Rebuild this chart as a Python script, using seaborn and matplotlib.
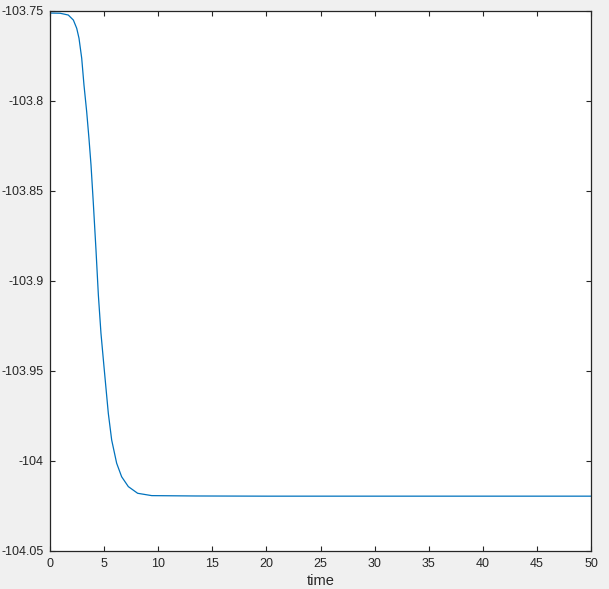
import matplotlib
matplotlib.use("Agg")
import matplotlib.pyplot as plt
import numpy as np
import pandas as pd
import seaborn as sns

# values (time vs. response)
time = [0.0, 0.92, 1.69, 2.16, 2.47, 2.68, 2.93, 3.14, 3.39, 3.60, 3.79,
        4.00, 4.25, 4.47, 4.71, 4.99, 5.24, 5.39, 5.70, 6.16, 6.62, 7.24,
        8.10, 9.40, 13.4, 20.0, 30.0, 40.0, 50.0]
value = [-103.7513, -103.7514, -103.7524, -103.7552, -103.7598, -103.7653,
         -103.7764, -103.7913, -103.8061, -103.8209, -103.8357, -103.8565,
         -103.8829, -103.9080, -103.9292, -103.9478, -103.9640, -103.9737,
         -103.9885, -104.0014, -104.0089, -104.0144, -104.0181, -104.0194,
         -104.0196, -104.0197, -104.0197, -104.0197, -104.0197]

x_ticks = [0, 5, 10, 15, 20, 25, 30, 35, 40, 45, 50]
y_ticks = [-104.05, -104.0, -103.95, -103.9, -103.85, -103.8, -103.75]
y_labels = ["-104.05", "-104", "-103.95", "-103.9", "-103.85", "-103.8", "-103.75"]

df = pd.DataFrame({"time": time, "value": value})

sns.set_style("white")
plt.rcParams["font.family"] = ["Liberation Sans", "DejaVu Sans"]
plt.rcParams["axes.unicode_minus"] = False

ink = "#262626"
fig = plt.figure(figsize=(6.09, 5.89), dpi=100, facecolor="#f0f0f0")
ax = fig.add_axes([50 / 609, 1 - 550.7 / 589, 541 / 609, 540 / 589])
ax.set_facecolor("white")

sns.lineplot(data=df, x="time", y="value", color="#0072BD", linewidth=0.9, ax=ax)

ax.set_xlim(0, 50)
ax.set_ylim(-104.05, -103.75)
ax.set_xticks(x_ticks)
ax.set_yticks(y_ticks)
ax.set_yticklabels(y_labels)
ax.set_xlabel("time", fontsize=10.5, color=ink, labelpad=3)
ax.set_ylabel("")

for s in ax.spines.values():
    s.set_visible(True)
    s.set_color(ink)
    s.set_linewidth(0.9)

ax.tick_params(axis="both", which="both", direction="in", length=3.5, width=0.8,
               color=ink, labelcolor=ink, labelsize=9,
               top=True, right=True, bottom=True, left=True)
ax.tick_params(axis="x", pad=5)
ax.tick_params(axis="y", pad=4.5)

fig.savefig("out.png", dpi=100, facecolor=fig.get_facecolor())
